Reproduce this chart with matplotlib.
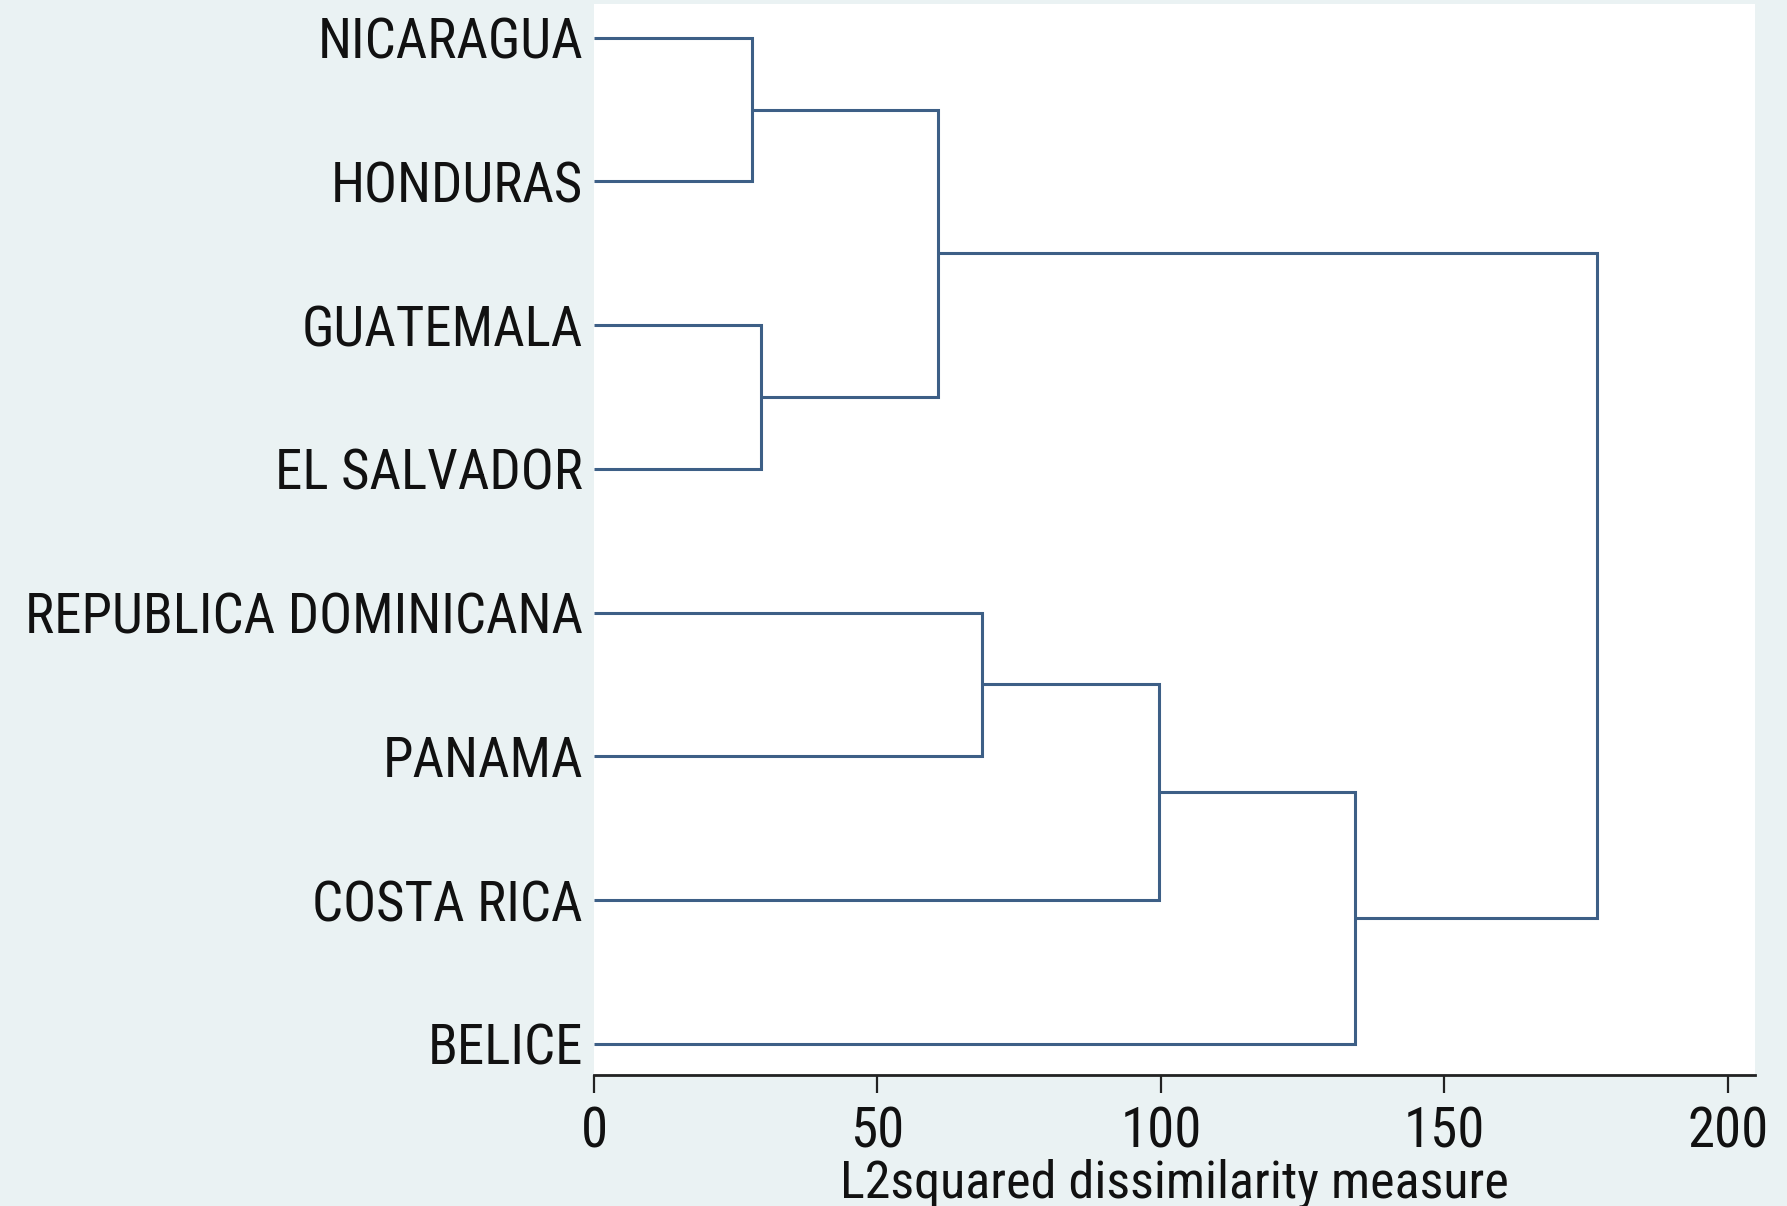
import matplotlib
matplotlib.use("Agg")
import matplotlib.pyplot as plt

# ---- data ----
leaves = ["NICARAGUA", "HONDURAS", "GUATEMALA", "EL SALVADOR",
          "REPUBLICA DOMINICANA", "PANAMA", "COSTA RICA", "BELICE"]
# merges: (left cluster id, right cluster id, height); leaves are ids 0..7, new clusters 8..
merge_left = [0, 2, 8, 4, 11, 12, 10]
merge_right = [1, 3, 9, 5, 6, 7, 13]
merge_height = [27.9, 29.5, 60.7, 68.5, 99.7, 134.3, 176.9]
xticks = [0, 50, 100, 150, 200]
xlabel = "L2squared dissimilarity measure"

plt.rcParams["font.family"] = ["Roboto Condensed", "DejaVu Sans"]

bg = "#eaf2f3"
lc = "#3d5f86"
tc = "#111111"
FS = 39.5

fig = plt.figure(figsize=(17.87, 12.06), dpi=100, facecolor=bg)
W, H = 1787, 1206
left, right, top, bottom = 594, 1755, 4, 1074
ax = fig.add_axes([left / W, 1 - bottom / H, (right - left) / W, (bottom - top) / H])
ax.set_facecolor("white")

# build dendrogram
pos = {i: (0.0, float(i)) for i in range(len(leaves))}  # (height, y)
for k, (a, b, h) in enumerate(zip(merge_left, merge_right, merge_height)):
    ha, ya = pos[a]
    hb, yb = pos[b]
    ax.plot([ha, h, h, hb], [ya, ya, yb, yb], color=lc, lw=2.2,
            solid_joinstyle="miter", solid_capstyle="butt")
    pos[len(leaves) + k] = (h, (ya + yb) / 2)

ax.set_xlim(0, 204.8)
ax.set_ylim(7.21, -0.234)
ax.set_yticks(range(len(leaves)))
ax.set_yticklabels(leaves)
ax.tick_params(axis="y", length=0, pad=8, labelsize=FS, labelcolor=tc)
ax.set_xticks(xticks)
ax.set_xticklabels([str(t) for t in xticks])
ax.tick_params(axis="x", length=13, width=1.6, color="#222222", pad=9,
               direction="out", labelsize=FS, labelcolor=tc)
for s in ["top", "right", "left"]:
    ax.spines[s].set_visible(False)
ax.spines["bottom"].set_position(("outward", 1))
ax.spines["bottom"].set_color("#222222")
ax.spines["bottom"].set_linewidth(2.0)
ax.set_xlabel(xlabel, fontsize=37.5, color=tc, labelpad=0)

fig.savefig("out.png", dpi=100, facecolor=bg)
